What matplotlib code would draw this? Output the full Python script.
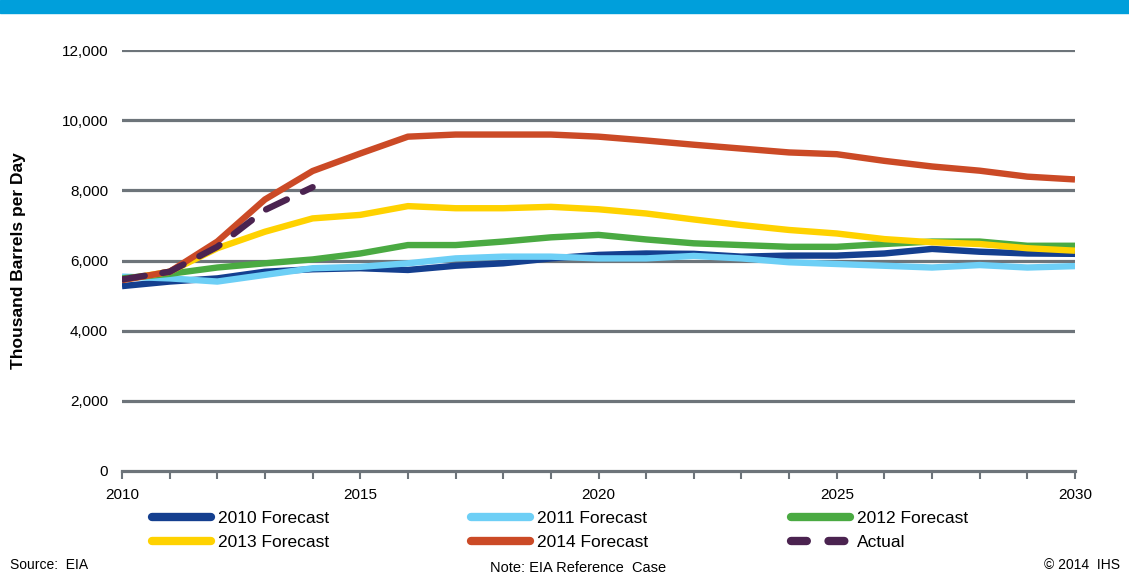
import matplotlib.pyplot as plt
from matplotlib.lines import Line2D
from matplotlib.patches import Rectangle

plt.rcParams['font.family'] = ['Liberation Sans', 'DejaVu Sans']

years = list(range(2010, 2031))
actual_years = list(range(2010, 2015))

f2010 = [5270, 5400, 5490, 5680, 5750, 5780, 5730, 5850, 5920, 6060, 6160,
         6200, 6190, 6110, 6140, 6140, 6200, 6330, 6250, 6200, 6190]
f2011 = [5540, 5490, 5400, 5590, 5780, 5820, 5920, 6060, 6110, 6110, 6060,
         6060, 6130, 6060, 5950, 5900, 5850, 5800, 5870, 5800, 5840]
f2012 = [5490, 5620, 5800, 5920, 6030, 6200, 6440, 6440, 6540, 6660, 6730,
         6600, 6490, 6440, 6390, 6390, 6470, 6540, 6540, 6420, 6420]
f2013 = [5450, 5680, 6350, 6820, 7200, 7300, 7550, 7490, 7490, 7530, 7460,
         7340, 7170, 7010, 6870, 6770, 6610, 6520, 6470, 6350, 6280]
f2014 = [5440, 5680, 6540, 7740, 8550, 9050, 9530, 9590, 9590, 9590, 9530,
         9420, 9300, 9190, 9080, 9030, 8840, 8680, 8560, 8390, 8310]
actual = [5460, 5680, 6390, 7440, 8090]

labels = ['2010 Forecast', '2011 Forecast', '2012 Forecast',
          '2013 Forecast', '2014 Forecast', 'Actual']
colors = ['#143f8f', '#6dcff6', '#4aaa42', '#ffd200', '#cb4a26', '#4b2350']
grid_color = '#6d747a'

fig = plt.figure(figsize=(11.29, 5.77), dpi=100)
ax = fig.add_axes([122 / 1129, 106 / 577, 953 / 1129, 421 / 577])

# banner strip along the top edge
fig.patches.append(Rectangle((0, 1 - 13 / 577), 1, 13 / 577, transform=fig.transFigure,
                             color='#009fdb', zorder=0))

for y in range(2000, 12001, 2000):
    ax.axhline(y, color=grid_color, lw=2.3, zorder=1)

lw = 4.6
series = [f2010, f2011, f2012, f2013, f2014]
for vals, col in zip(series, colors[:5]):
    ax.plot(years, vals, color=col, lw=lw, solid_capstyle='butt', zorder=3)
ax.plot(actual_years, actual, color=colors[5], lw=lw, dashes=(3.6, 2.8),
        dash_capstyle='round', zorder=4)

ax.set_xlim(2010, 2030)
ax.set_ylim(0, 12000)
ax.set_xticks([2010, 2015, 2020, 2025, 2030])
ax.set_xticks(years, minor=True)
ax.set_yticks(range(0, 12001, 2000))
ax.set_yticklabels([f'{v:,}' for v in range(0, 12001, 2000)])

for s in ['top', 'right', 'left']:
    ax.spines[s].set_visible(False)
ax.spines['bottom'].set_color(grid_color)
ax.spines['bottom'].set_linewidth(2.3)
ax.spines['bottom'].set_zorder(2)
ax.tick_params(axis='x', which='both', direction='out', length=6, width=1.5,
               color=grid_color, labelsize=11, pad=6)
ax.tick_params(axis='y', length=0, labelsize=11, pad=10)
ax.set_ylabel('Thousand Barrels per Day', fontsize=12.5, fontweight='bold')
ax.yaxis.set_label_coords(-96 / 953, 0.5)
ax.patch.set_alpha(0)

handles = []
for lab, col in zip(labels, colors):
    if lab == 'Actual':
        h = Line2D([], [], color=col, lw=6, dashes=(1.9, 2.6), dash_capstyle='round')
    else:
        h = Line2D([], [], color=col, lw=6, solid_capstyle='round')
    handles.append(h)
order = [0, 3, 1, 4, 2, 5]
fig.legend([handles[i] for i in order], [labels[i] for i in order],
           loc='upper left', bbox_to_anchor=(152 / 1129, 1 - 511 / 577),
           ncol=3, frameon=False, fontsize=12.5, handlelength=3.4,
           handletextpad=0.4, columnspacing=8.2, labelspacing=0.5,
           borderpad=0, borderaxespad=0)

fig.text(10 / 1129, 1 - 565 / 577, 'Source:  EIA', fontsize=10, va='center', ha='left')
fig.text(578 / 1129, 1 - 568 / 577, 'Note: EIA Reference  Case', fontsize=10.5,
         va='center', ha='center')
fig.text(1120 / 1129, 1 - 565 / 577, '© 2014  IHS', fontsize=10, va='center', ha='right')

fig.savefig('out.png', dpi=100)
